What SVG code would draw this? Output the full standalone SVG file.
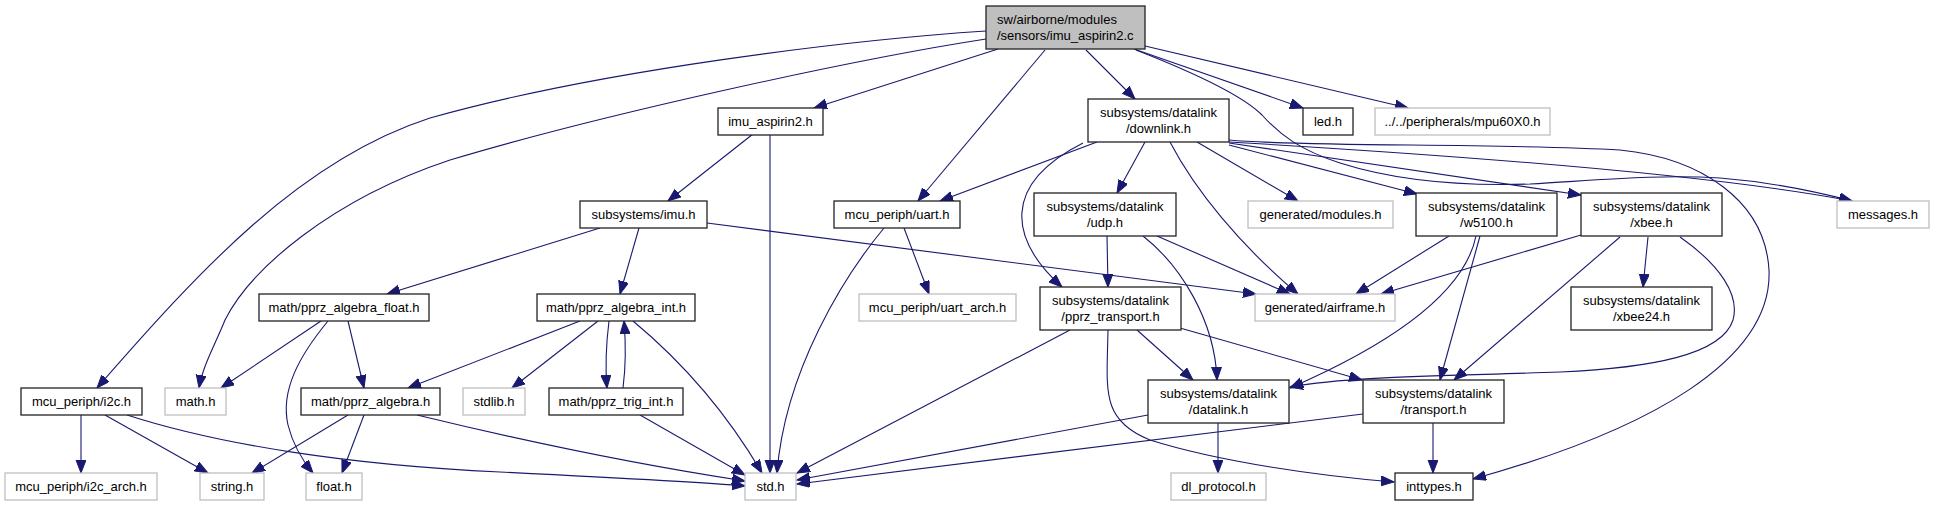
<svg xmlns="http://www.w3.org/2000/svg" width="1933" height="507" viewBox="0 0 1933 507">
<style>
text{font-family:"Liberation Sans",Arial,sans-serif;font-size:13px;fill:#000;text-anchor:middle}
.b{fill:#fff;stroke:#222;stroke-width:1.3}
.g{fill:#fff;stroke:#bfbfbf;stroke-width:1.3}
.e{fill:none;stroke:#191970;stroke-width:1.1;marker-end:url(#a)}
</style>
<defs>
<marker id="a" markerWidth="15" markerHeight="12" refX="13" refY="5" orient="auto" markerUnits="userSpaceOnUse" viewBox="0 0 15 12">
<path d="M0,0 L13,5 L0,10 z" fill="#191970" stroke="#191970" stroke-width="1"/>
</marker>
</defs>
<rect width="1933" height="507" fill="#fff"/>
<g id="edges">
<path class="e" d="M998,49 L814,108"/>
<path class="e" d="M1045,50 L918,201"/>
<path class="e" d="M1086,50 L1135,99"/>
<path class="e" d="M1134,49 L1303,108"/>
<path class="e" d="M1145,46 L1408,108"/>
<path class="e" d="M1136,50 C1200,75 1245,98 1262,115 C1280,135 1300,150 1340,163 C1400,182 1470,186 1530,184 C1600,180 1660,174 1720,178 C1770,182 1810,190 1852,201"/>
<path class="e" d="M986,31 C850,40 600,70 430,118 C300,160 200,270 97,388"/>
<path class="e" d="M986,39 C850,60 600,115 450,160 C330,200 250,270 225,320 C215,345 203,365 199,388"/>
<path class="e" d="M753,134 L668,201"/>
<path class="e" d="M770,134 L770,473"/>
<path class="e" d="M600,228 L387,294"/>
<path class="e" d="M639,228 L620,294"/>
<path class="e" d="M707,223 L1256,294"/>
<path class="e" d="M321,321 L221,388"/>
<path class="e" d="M328,321 C300,355 280,390 288,425 C293,445 302,460 313,473"/>
<path class="e" d="M348,321 L364,388"/>
<path class="e" d="M580,321 L408,388"/>
<path class="e" d="M598,321 L512,388"/>
<path class="e" d="M609,321 C606,345 605,365 607,388"/>
<path class="e" d="M623,388 C626,365 626,345 624,321"/>
<path class="e" d="M633,321 C680,360 725,410 762,473"/>
<path class="e" d="M640,415 L745,475"/>
<path class="e" d="M348,415 L252,473"/>
<path class="e" d="M364,415 L342,473"/>
<path class="e" d="M417,415 C520,440 640,465 745,481"/>
<path class="e" d="M81,415 L81,473"/>
<path class="e" d="M105,415 L208,473"/>
<path class="e" d="M127,415 C220,445 350,465 500,472 C620,478 700,482 745,486"/>
<path class="e" d="M884,228 C845,275 785,370 777,473"/>
<path class="e" d="M904,228 L929,294"/>
<path class="e" d="M1097,142 L940,201"/>
<path class="e" d="M1145,142 L1117,193"/>
<path class="e" d="M1083,143 C1000,185 1010,240 1062,287"/>
<path class="e" d="M1170,142 C1195,190 1240,245 1298,294"/>
<path class="e" d="M1197,142 L1298,201"/>
<path class="e" d="M1229,145 L1417,194"/>
<path class="e" d="M1229,143 L1581,195"/>
<path class="e" d="M1229,142 C1400,152 1700,172 1852,201"/>
<path class="e" d="M1229,140 C1300,147 1500,143 1620,150 C1700,158 1765,200 1769,270 C1773,360 1650,430 1473,479"/>
<path class="e" d="M1107,236 L1108,287"/>
<path class="e" d="M1157,236 L1290,294"/>
<path class="e" d="M1143,236 C1180,265 1215,320 1217,380"/>
<path class="e" d="M1070,330 L797,473"/>
<path class="e" d="M1137,330 L1193,380"/>
<path class="e" d="M1180,328 L1362,380"/>
<path class="e" d="M1108,330 C1107,390 1100,420 1150,440 C1220,462 1320,476 1394,482"/>
<path class="e" d="M1449,236 L1356,294"/>
<path class="e" d="M1476,236 C1465,290 1400,340 1290,388"/>
<path class="e" d="M1480,236 L1440,380"/>
<path class="e" d="M1581,235 L1381,294"/>
<path class="e" d="M1648,237 L1643,287"/>
<path class="e" d="M1620,237 L1454,380"/>
<path class="e" d="M1680,237 C1720,265 1740,295 1733,320 C1722,355 1650,368 1560,372 C1450,376 1350,376 1290,387"/>
<path class="e" d="M1148,415 L797,480"/>
<path class="e" d="M1218,423 L1218,473"/>
<path class="e" d="M1363,414 L797,484"/>
<path class="e" d="M1433,423 L1433,473"/>
</g>
<g id="n_root"><rect x="986" y="6" width="159" height="43" fill="#bfbfbf" stroke="#222" stroke-width="1.3"/><text x="997" y="24" style="text-anchor:start">sw/airborne/modules</text><text x="997" y="40" style="text-anchor:start">/sensors/imu_aspirin2.c</text></g>
<g id="n_imu_aspirin2"><rect class="b" x="718" y="108" width="105" height="27"/><text x="770.5" y="126">imu_aspirin2.h</text></g>
<g id="n_downlink"><rect class="b" x="1088" y="99" width="141" height="43"/><text x="1158.5" y="117">subsystems/datalink</text><text x="1158.5" y="133">/downlink.h</text></g>
<g id="n_led"><rect class="b" x="1303" y="108" width="50" height="27"/><text x="1328" y="126">led.h</text></g>
<g id="n_mpu"><rect class="g" x="1375" y="108" width="175" height="27"/><text x="1462.5" y="126">../../peripherals/mpu60X0.h</text></g>
<g id="n_imu"><rect class="b" x="580" y="201" width="127" height="27"/><text x="643.5" y="219">subsystems/imu.h</text></g>
<g id="n_uart"><rect class="b" x="834" y="201" width="126" height="27"/><text x="897" y="219">mcu_periph/uart.h</text></g>
<g id="n_udp"><rect class="b" x="1034" y="193" width="142" height="43"/><text x="1105" y="211">subsystems/datalink</text><text x="1105" y="227">/udp.h</text></g>
<g id="n_modules"><rect class="g" x="1248" y="201" width="145" height="27"/><text x="1320.5" y="219">generated/modules.h</text></g>
<g id="n_w5100"><rect class="b" x="1416" y="193" width="141" height="43"/><text x="1486.5" y="211">subsystems/datalink</text><text x="1486.5" y="227">/w5100.h</text></g>
<g id="n_xbee"><rect class="b" x="1581" y="193" width="141" height="43"/><text x="1651.5" y="211">subsystems/datalink</text><text x="1651.5" y="227">/xbee.h</text></g>
<g id="n_messages"><rect class="g" x="1837" y="201" width="92" height="27"/><text x="1883" y="219">messages.h</text></g>
<g id="n_alg_float"><rect class="b" x="259" y="294" width="170" height="27"/><text x="344" y="312">math/pprz_algebra_float.h</text></g>
<g id="n_alg_int"><rect class="b" x="537" y="294" width="158" height="27"/><text x="616" y="312">math/pprz_algebra_int.h</text></g>
<g id="n_uart_arch"><rect class="g" x="859" y="294" width="157" height="27"/><text x="937.5" y="312">mcu_periph/uart_arch.h</text></g>
<g id="n_pprz_transport"><rect class="b" x="1040" y="287" width="141" height="43"/><text x="1110.5" y="305">subsystems/datalink</text><text x="1110.5" y="321">/pprz_transport.h</text></g>
<g id="n_airframe"><rect class="g" x="1255" y="294" width="140" height="27"/><text x="1325" y="312">generated/airframe.h</text></g>
<g id="n_xbee24"><rect class="b" x="1571" y="287" width="141" height="43"/><text x="1641.5" y="305">subsystems/datalink</text><text x="1641.5" y="321">/xbee24.h</text></g>
<g id="n_i2c"><rect class="b" x="21" y="388" width="121" height="27"/><text x="81.5" y="406">mcu_periph/i2c.h</text></g>
<g id="n_math"><rect class="g" x="165" y="388" width="61" height="27"/><text x="195.5" y="406">math.h</text></g>
<g id="n_pprz_algebra"><rect class="b" x="301" y="388" width="139" height="27"/><text x="370.5" y="406">math/pprz_algebra.h</text></g>
<g id="n_stdlib"><rect class="g" x="463" y="388" width="62" height="27"/><text x="494" y="406">stdlib.h</text></g>
<g id="n_trig"><rect class="b" x="549" y="388" width="134" height="27"/><text x="616" y="406">math/pprz_trig_int.h</text></g>
<g id="n_datalink"><rect class="b" x="1148" y="380" width="141" height="43"/><text x="1218.5" y="398">subsystems/datalink</text><text x="1218.5" y="414">/datalink.h</text></g>
<g id="n_transport"><rect class="b" x="1363" y="380" width="141" height="43"/><text x="1433.5" y="398">subsystems/datalink</text><text x="1433.5" y="414">/transport.h</text></g>
<g id="n_i2c_arch"><rect class="g" x="5" y="473" width="152" height="27"/><text x="81" y="491">mcu_periph/i2c_arch.h</text></g>
<g id="n_string"><rect class="g" x="200" y="473" width="64" height="27"/><text x="232" y="491">string.h</text></g>
<g id="n_float"><rect class="g" x="306" y="473" width="56" height="27"/><text x="334" y="491">float.h</text></g>
<g id="n_std"><rect class="g" x="745" y="473" width="51" height="27"/><text x="770.5" y="491">std.h</text></g>
<g id="n_dl_protocol"><rect class="g" x="1171" y="473" width="95" height="27"/><text x="1218.5" y="491">dl_protocol.h</text></g>
<g id="n_inttypes"><rect class="b" x="1395" y="473" width="78" height="27"/><text x="1434" y="491">inttypes.h</text></g>
</svg>
